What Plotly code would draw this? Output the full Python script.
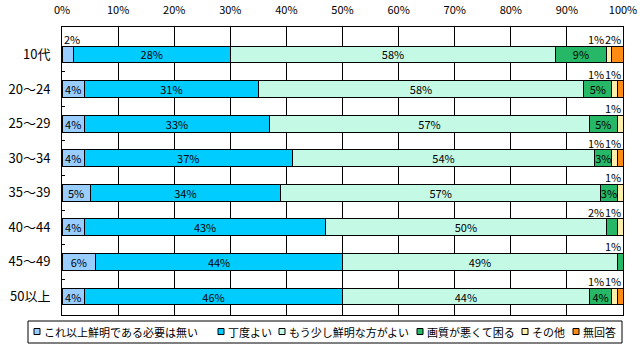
import plotly.graph_objects as go

categories = ["10代", "20～24", "25～29", "30～34", "35～39", "40～44", "45～49", "50以上"]
series_names = ["これ以上鮮明である必要は無い", "丁度よい", "もう少し鮮明な方がよい",
                "画質が悪くて困る", "その他", "無回答"]
s_nomore = [2, 4, 4, 4, 5, 4, 6, 4]
s_just = [28, 31, 33, 37, 34, 43, 44, 46]
s_more = [58, 58, 57, 54, 57, 50, 49, 44]
s_bad = [9, 5, 5, 3, 3, 2, 1, 4]
s_other = [1, 1, 1, 1, 1, 1, 0, 1]
s_noans = [2, 1, 0, 1, 0, 0, 0, 1]
x_ticks = list(range(0, 101, 10))

series = [s_nomore, s_just, s_more, s_bad, s_other, s_noans]
colors = ["#99CCFF", "#00CCFF", "#C4F9E6", "#26B866", "#FFEFAA", "#FF8A14"]

FONT = "Noto Sans CJK JP"
W, H = 640, 348
L, R, T, B = 62, 623, 27, 315
pw, ph = R - L, B - T

ypos = list(range(len(categories)))

fig = go.Figure()
for name, vals, col in zip(series_names, series, colors):
    fig.add_trace(go.Bar(
        name=name, x=vals, y=ypos, orientation="h", width=0.49,
        marker=dict(color=col, line=dict(color="black", width=1)),
        text=[f"{v}%" if v >= 3 else "" for v in vals],
        textposition="inside", insidetextanchor="middle", textangle=0,
        textfont=dict(family=FONT, size=11, color="black"),
        showlegend=False, hoverinfo="skip",
    ))

annotations = []
# small value labels above bars
for i in ypos:
    left = [f"{series[0][i]}%"] if 0 < series[0][i] < 3 else []
    right = [f"{series[k][i]}%" for k in range(1, len(series)) if 0 < series[k][i] < 3]
    if left:
        annotations.append(dict(x=0, y=i - 0.45, xref="x", yref="y", text=left[0],
                                showarrow=False, xanchor="left", yanchor="middle",
                                font=dict(family=FONT, size=11, color="black")))
    for j, t in enumerate(reversed(right)):
        annotations.append(dict(x=100, y=i - 0.45, xref="x", yref="y", text=t,
                                showarrow=False, xanchor="right", yanchor="middle",
                                xshift=-17 * j,
                                font=dict(family=FONT, size=11, color="black")))

# custom legend
def px2x(px):
    return (px - L) / pw

def py2y(py):
    return (B - py) / ph

shapes = [dict(type="rect", xref="paper", yref="paper",
               x0=px2x(28), x1=px2x(622), y0=py2y(343), y1=py2y(321),
               line=dict(color="black", width=1), fillcolor="white")]
item_x = [34, 218, 279, 417, 522, 573]
for name, col, ix in zip(series_names, colors, item_x):
    shapes.append(dict(type="rect", xref="paper", yref="paper",
                       x0=px2x(ix), x1=px2x(ix + 6), y0=py2y(334.5), y1=py2y(328.5),
                       line=dict(color="black", width=1), fillcolor=col))
    annotations.append(dict(x=px2x(ix + 8), y=py2y(331.5), xref="paper", yref="paper",
                            text=name, showarrow=False, xanchor="left", yanchor="middle",
                            font=dict(family=FONT, size=11, color="black")))

fig.update_layout(
    barmode="stack",
    width=W, height=H,
    margin=dict(l=L, r=W - R, t=T, b=H - B, pad=0, autoexpand=False),
    paper_bgcolor="white", plot_bgcolor="white",
    font=dict(family=FONT, size=11, color="black"),
    xaxis=dict(range=[0, 100], side="top", tickvals=x_ticks,
               ticktext=[f"{v}%" for v in x_ticks], automargin=False,
               showgrid=True, gridcolor="black", gridwidth=1,
               showline=True, linecolor="black", linewidth=1, mirror=True,
               ticks="", zeroline=False, fixedrange=True, ticklabelstandoff=8,
               tickfont=dict(family=FONT, size=11, color="black")),
    yaxis=dict(range=[7.535, -0.795], tickvals=ypos, ticktext=categories,
               automargin=False,
               showgrid=False, showline=True, linecolor="black", linewidth=1, mirror=True,
               ticks="", zeroline=False, ticklabelstandoff=8,
               minor=dict(tickvals=[i + 0.5 for i in ypos[:-1]], ticks="inside",
                          ticklen=3, tickcolor="black", tickwidth=1, showgrid=False),
               tickfont=dict(family=FONT, size=13, color="black")),
    uniformtext=dict(mode="show", minsize=11),
    annotations=annotations,
    shapes=shapes,
    showlegend=False,
)

fig.write_html("out.html")
